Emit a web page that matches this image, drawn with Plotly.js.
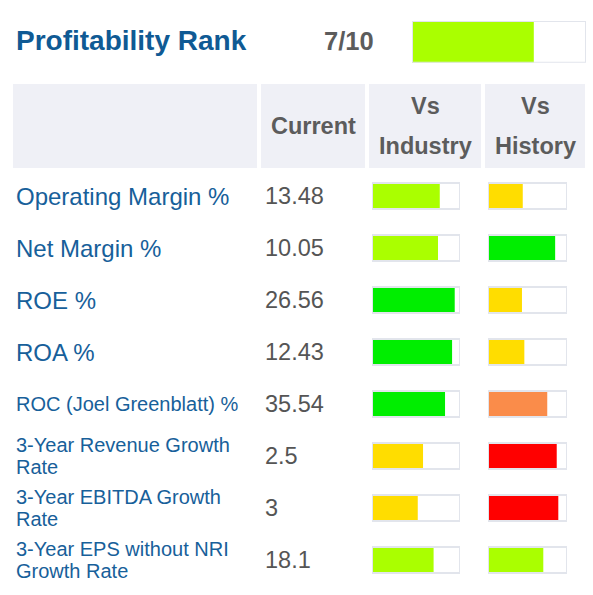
<!DOCTYPE html>
<html><head><meta charset="utf-8">
<script src="https://cdn.plot.ly/plotly-3.0.1.min.js"></script>
<style>html,body{margin:0;padding:0;background:#fff;overflow:hidden}#chart{width:593px;height:595px}</style>
</head><body><div id="chart"></div>
<script>
// ---- data ----
const titleText = 'Profitability Rank';
const rankValue = 7;
const rankMax = 10;
const headers = ['Current', 'Vs<br>Industry', 'Vs<br>History'];
const metrics = ['Operating Margin %', 'Net Margin %', 'ROE %', 'ROA %',
  'ROC (Joel Greenblatt) %', '3-Year Revenue Growth<br>Rate',
  '3-Year EBITDA Growth<br>Rate', '3-Year EPS without NRI<br>Growth Rate'];
const currentValues = ['13.48', '10.05', '26.56', '12.43', '35.54', '2.5', '3', '18.1'];
const vsIndustry = [77, 75, 94, 91, 83, 58, 52, 70];
const vsHistory = [44, 85, 43, 46, 75, 87, 89, 70];
const industryColors = ['#aaff00', '#aaff00', '#00ee00', '#00ee00', '#00ee00', '#ffdd00', '#ffdd00', '#aaff00'];
const historyColors = ['#ffdd00', '#00ee00', '#ffdd00', '#ffdd00', '#fa8c4a', '#ff0000', '#ff0000', '#aaff00'];
const rankColor = '#aaff00';

// ---- styling / layout helpers ----
const W = 593, H = 595;
const px = v => v / W;
const py = v => 1 - v / H;
const FONT = 'Liberation Sans, Arial, Helvetica, sans-serif';
const BLUE = '#0f5a94';
const LBLUE = '#17609a';
const GREY = '#555555';
const HGREY = '#5c5c5c';
const TRACK = '#e2e5ec';
const HEADBG = '#eff0f6';

const traces = [];
// industry fill + track outline
traces.push({type: 'bar', orientation: 'h', x: vsIndustry, y: metrics, xaxis: 'x', yaxis: 'y',
  width: 0.5, marker: {color: industryColors, line: {width: 0}}, hoverinfo: 'skip', showlegend: false});
traces.push({type: 'bar', orientation: 'h', x: metrics.map(() => 100), y: metrics, xaxis: 'x', yaxis: 'y',
  width: 0.5, marker: {color: 'rgba(0,0,0,0)', line: {width: 2, color: TRACK}}, hoverinfo: 'skip', showlegend: false});
// history fill + track outline
traces.push({type: 'bar', orientation: 'h', x: vsHistory, y: metrics, xaxis: 'x2', yaxis: 'y',
  width: 0.5, marker: {color: historyColors, line: {width: 0}}, hoverinfo: 'skip', showlegend: false});
traces.push({type: 'bar', orientation: 'h', x: metrics.map(() => 100), y: metrics, xaxis: 'x2', yaxis: 'y',
  width: 0.5, marker: {color: 'rgba(0,0,0,0)', line: {width: 2, color: TRACK}}, hoverinfo: 'skip', showlegend: false});
// rank
traces.push({type: 'bar', orientation: 'h', x: [rankValue], y: ['rank'], xaxis: 'x3', yaxis: 'y3',
  width: 1, marker: {color: rankColor, line: {width: 0}}, hoverinfo: 'skip', showlegend: false});
traces.push({type: 'bar', orientation: 'h', x: [rankMax], y: ['rank'], xaxis: 'x3', yaxis: 'y3',
  width: 1, marker: {color: 'rgba(0,0,0,0)', line: {width: 2, color: TRACK}}, hoverinfo: 'skip', showlegend: false});

const hidden = {showgrid: false, zeroline: false, showticklabels: false, ticks: '', showline: false, fixedrange: true};

const shapes = [[13, 257], [261, 365], [369, 481], [485, 585]].map(([a, b]) => ({
  type: 'rect', xref: 'paper', yref: 'paper', x0: px(a), x1: px(b), y0: py(168), y1: py(84),
  fillcolor: HEADBG, line: {width: 0}, layer: 'below'}));

const annotations = [];
function addLines(text, opts, gap) {
  const lines = text.split('<br>');
  const n = lines.length;
  lines.forEach((t, i) => {
    annotations.push(Object.assign({}, opts, {text: t, yshift: -((i - (n - 1) / 2) * gap)}));
  });
}
annotations.push({text: titleText, xref: 'paper', yref: 'paper', x: px(14), y: py(41), xanchor: 'left', yanchor: 'middle',
  showarrow: false, font: {family: FONT, size: 28, color: BLUE, weight: 'bold'}});
annotations.push({text: rankValue + '/' + rankMax, xref: 'paper', yref: 'paper', x: px(349), y: py(41), xanchor: 'center', yanchor: 'middle',
  showarrow: false, font: {family: FONT, size: 25.5, color: HGREY, weight: 'bold'}});
const headCenters = [313, 425, 535];
headers.forEach((h, i) => {
  addLines(h, {xref: 'paper', yref: 'paper', x: px(headCenters[i]), y: py(126), xanchor: 'center', yanchor: 'middle',
    showarrow: false, font: {family: FONT, size: 23.5, color: HGREY, weight: 'bold'}}, 40.5);
});
metrics.forEach((m, i) => {
  const size = m.length > 20 ? 20 : 24;
  addLines(m, {xref: 'paper', yref: 'y', x: px(14), y: m, xanchor: 'left', yanchor: 'middle',
    showarrow: false, font: {family: FONT, size: size, color: LBLUE}}, 21.5);
  annotations.push({text: currentValues[i], xref: 'paper', yref: 'y', x: px(262.5), y: m, xanchor: 'left', yanchor: 'middle',
    showarrow: false, font: {family: FONT, size: 23.5, color: GREY}});
});

const layout = {
  width: W, height: H, margin: {l: 0, r: 0, t: 0, b: 0, pad: 0},
  paper_bgcolor: '#ffffff', plot_bgcolor: 'rgba(0,0,0,0)',
  barmode: 'overlay', showlegend: false, dragmode: false,
  xaxis: Object.assign({domain: [px(372), px(460)], range: [0, 100], anchor: 'y'}, hidden),
  xaxis2: Object.assign({domain: [px(488), px(567)], range: [0, 100], anchor: 'y'}, hidden),
  xaxis3: Object.assign({domain: [px(412), px(586)], range: [0, rankMax], anchor: 'y3'}, hidden),
  yaxis: Object.assign({domain: [py(586), py(170)], type: 'category', categoryorder: 'array', categoryarray: metrics,
    range: [7.5, -0.5], anchor: 'x'}, hidden),
  yaxis3: Object.assign({domain: [py(62.7), py(21)], type: 'category', range: [-0.5, 0.5], anchor: 'x3'}, hidden),
  shapes: shapes, annotations: annotations
};
Plotly.newPlot('chart', traces, layout, {displayModeBar: false, staticPlot: true});
</script></body></html>
